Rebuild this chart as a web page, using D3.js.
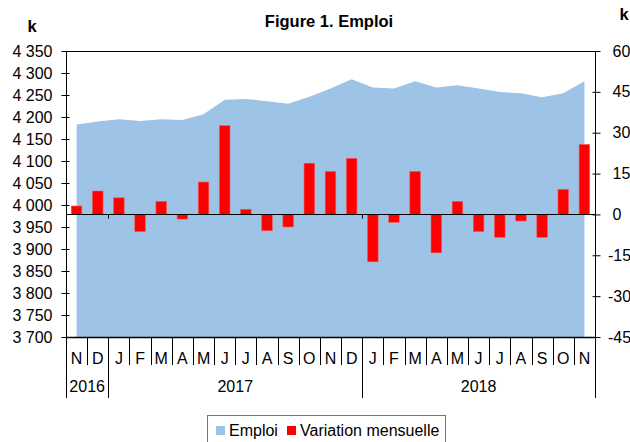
<!DOCTYPE html>
<html>
<head>
<meta charset="utf-8">
<script src="https://cdn.jsdelivr.net/npm/d3@7"></script>
<style>
  body { margin: 0; background: #fff; }
  svg { font-family: "Liberation Sans", Arial, sans-serif; }
</style>
</head>
<body>
<div id="chart"></div>
<script>
    // Data
    const months = ["N","D","J","F","M","A","M","J","J","A","S","O","N","D","J","F","M","A","M","J","J","A","S","O","N"];
    const yearLabels = ["2016", "2017", "2018"];
    const yearSpans = [2, 12, 11];
    const emploi = [4183, 4190, 4195, 4191, 4195, 4193, 4206, 4239, 4241, 4236, 4230, 4246,
                    4265, 4286, 4267, 4265, 4281, 4267, 4272, 4265, 4257, 4254, 4245, 4254, 4281];
    const variation = [3.1, 8.6, 6.1, -6.3, 4.8, -1.7, 11.9, 32.6, 1.9, -6.0, -4.6, 18.8,
                       15.8, 20.6, -17.4, -2.9, 15.8, -14.1, 4.8, -6.3, -8.4, -2.4, -8.4, 9.2, 25.7];
    const leftTicks = d3.range(3700, 4351, 50);
    const rightTicks = [-45, -30, -15, 0, 15, 30, 45, 60];

    const width = 630, height = 442;
    const plot = { left: 66, right: 595, top: 51, bottom: 337 };
    const fs = "16px";

    const svg = d3.select("#chart").append("svg")
        .attr("width", width)
        .attr("height", height);

    const x = d3.scaleBand()
        .domain(d3.range(months.length))
        .range([plot.left, plot.right])
        .padding(0);
    const bw = x.bandwidth();

    const yL = d3.scaleLinear().domain([3700, 4350]).range([plot.bottom, plot.top]);
    const yR = d3.scaleLinear().domain([-45, 60]).range([plot.bottom, plot.top]);

    const fr = d3.formatLocale({ decimal: ",", thousands: " ", grouping: [3], currency: ["", "€"] });
    const fmt = fr.format(",");

    // Area (Emploi)
    const area = d3.area()
        .x((d, i) => x(i) + bw / 2)
        .y0(plot.bottom)
        .y1(d => yL(d));
    svg.append("path")
        .datum(emploi)
        .attr("d", area)
        .attr("fill", "#9dc3e6");

    // Bars (Variation mensuelle)
    svg.selectAll("rect.bar")
        .data(variation)
        .enter()
        .append("rect")
        .attr("class", "bar")
        .attr("x", (d, i) => x(i) + bw * 0.25)
        .attr("width", bw * 0.5)
        .attr("y", d => yR(Math.max(0, d)))
        .attr("height", d => Math.abs(yR(d) - yR(0)))
        .attr("fill", "#ff0000")
        .attr("stroke", "#f25a5a")
        .attr("stroke-width", 0.6);

    // Zero line
    const z = Math.round(yR(0)) + 0.5;
    svg.append("line")
        .attr("x1", plot.left).attr("x2", plot.right)
        .attr("y1", z).attr("y2", z)
        .attr("stroke", "#000");

    // Frame
    svg.append("line").attr("x1", plot.left).attr("x2", plot.right)
        .attr("y1", plot.top + 0.5).attr("y2", plot.top + 0.5).attr("stroke", "#000");
    svg.append("line").attr("x1", plot.left).attr("x2", plot.right)
        .attr("y1", plot.bottom + 0.5).attr("y2", plot.bottom + 0.5).attr("stroke", "#000").attr("stroke-width", 1.5);

    // Left axis, ticks crossing the axis line
    const gl = svg.append("g")
        .attr("transform", `translate(${plot.left + 0.5},0)`)
        .call(d3.axisLeft(yL).tickValues(leftTicks).tickFormat(fmt).tickSize(6).tickPadding(8));
    gl.select(".domain").remove();
    gl.selectAll("line").attr("stroke", "#000").attr("x1", 3).attr("x2", -5);
    gl.selectAll("text").attr("font-size", fs).attr("fill", "#000")
        .attr("font-family", "Liberation Sans, Arial, sans-serif");

    // Right axis (plain hyphen for negatives, digits aligned as in the original)
    const gr = svg.append("g")
        .attr("transform", `translate(${plot.right + 0.5},0)`)
        .call(d3.axisRight(yR).tickValues(rightTicks).tickFormat(d => String(d)).tickSize(6).tickPadding(11));
    gr.select(".domain").remove();
    gr.selectAll("line").attr("stroke", "#000").attr("x1", -3).attr("x2", 5);
    gr.selectAll("text").attr("font-size", fs).attr("fill", "#000")
        .attr("font-family", "Liberation Sans, Arial, sans-serif")
        .attr("dx", d => d < 0 ? -4.5 : 0);

    // Vertical axis lines (extend down through year rows)
    const yearBottom = 398;
    svg.append("line").attr("x1", plot.left + 0.5).attr("x2", plot.left + 0.5)
        .attr("y1", plot.top).attr("y2", yearBottom).attr("stroke", "#000");
    svg.append("line").attr("x1", plot.right + 0.5).attr("x2", plot.right + 0.5)
        .attr("y1", plot.top).attr("y2", yearBottom).attr("stroke", "#000");

    // Month separators
    const monthBottom = 365;
    svg.selectAll("line.msep")
        .data(d3.range(1, months.length))
        .enter()
        .append("line")
        .attr("class", "msep")
        .attr("x1", i => Math.round(x(i)) + 0.5)
        .attr("x2", i => Math.round(x(i)) + 0.5)
        .attr("y1", plot.bottom)
        .attr("y2", monthBottom)
        .attr("stroke", "#000");

    // Month labels
    svg.selectAll("text.month")
        .data(months)
        .enter()
        .append("text")
        .attr("class", "month")
        .attr("x", (d, i) => x(i) + bw / 2)
        .attr("y", 364)
        .attr("text-anchor", "middle")
        .attr("font-size", fs)
        .text(d => d);

    // Year separators and labels
    const yearStarts = yearSpans.map((s, i) => d3.sum(yearSpans.slice(0, i)));
    yearStarts.slice(1).forEach(s => {
        const xx = Math.round(x(s)) + 0.5;
        svg.append("line").attr("x1", xx).attr("x2", xx)
            .attr("y1", plot.bottom).attr("y2", yearBottom).attr("stroke", "#000");
        svg.append("line").attr("x1", xx).attr("x2", xx)
            .attr("y1", z).attr("y2", z + 4).attr("stroke", "#000");
    });
    svg.selectAll("text.year")
        .data(yearLabels)
        .enter()
        .append("text")
        .attr("class", "year")
        .attr("x", (d, i) => x(yearStarts[i]) + bw * yearSpans[i] / 2)
        .attr("y", 392)
        .attr("text-anchor", "middle")
        .attr("font-size", fs)
        .text(d => d);

    // Title and units
    svg.append("text")
        .attr("x", 329).attr("y", 27)
        .attr("text-anchor", "middle")
        .attr("font-size", "16.5px").attr("font-weight", "bold")
        .text("Figure 1. Emploi");
    svg.append("text")
        .attr("x", 32).attr("y", 32)
        .attr("text-anchor", "middle")
        .attr("font-size", "16.5px").attr("font-weight", "bold")
        .text("k");
    svg.append("text")
        .attr("x", 624).attr("y", 20)
        .attr("text-anchor", "middle")
        .attr("font-size", "16.5px").attr("font-weight", "bold")
        .text("k");

    // Legend
    const lg = svg.append("g");
    lg.append("rect")
        .attr("x", 207.5).attr("y", 415.5)
        .attr("width", 238).attr("height", 40)
        .attr("fill", "#fff").attr("stroke", "#777");
    lg.append("rect").attr("x", 216).attr("y", 426).attr("width", 9).attr("height", 9).attr("fill", "#9dc3e6");
    lg.append("text").attr("x", 229).attr("y", 436).attr("font-size", fs).text("Emploi");
    lg.append("rect").attr("x", 287).attr("y", 426).attr("width", 9).attr("height", 9).attr("fill", "#ff0000");
    lg.append("text").attr("x", 300).attr("y", 436).attr("font-size", fs).text("Variation mensuelle");
</script>
</body>
</html>
